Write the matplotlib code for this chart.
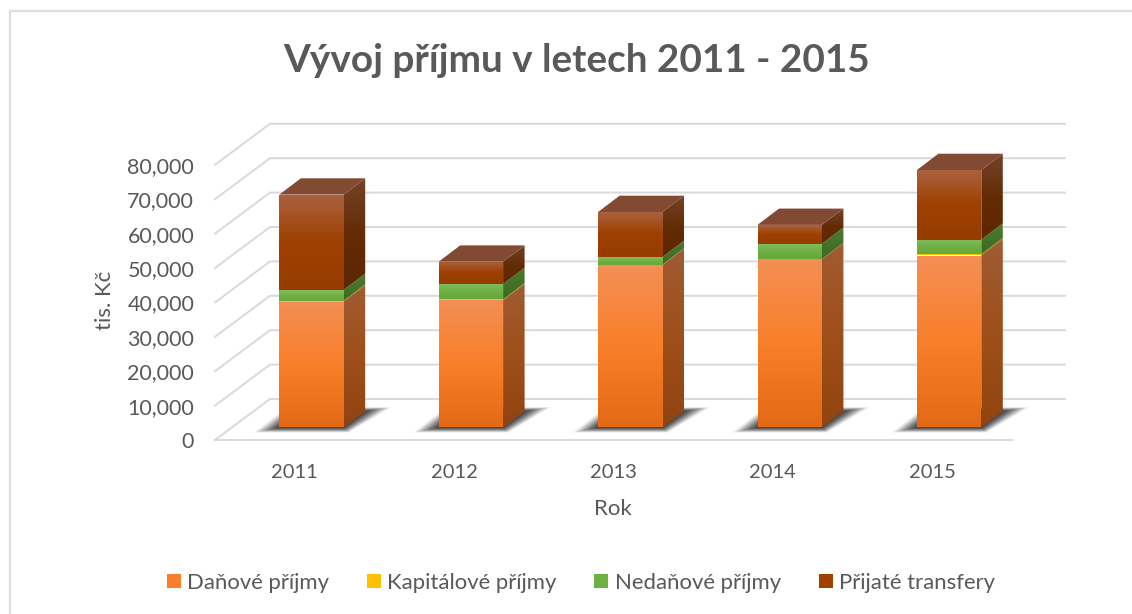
import matplotlib
matplotlib.use("Agg")
import matplotlib.pyplot as plt
import numpy as np
from matplotlib.colors import LinearSegmentedColormap
from matplotlib.patches import Polygon, Patch
from matplotlib.ticker import StrMethodFormatter

years = ['2011', '2012', '2013', '2014', '2015']
danove = [36600, 37000, 47240, 48900, 50000]
kapitalove = [300, 250, 100, 50, 400]
nedanove = [3100, 4450, 2220, 4450, 4200]
transfery = [27700, 6500, 13090, 5500, 20250]
series_names = ['Daňové příjmy', 'Kapitálové příjmy', 'Nedaňové příjmy', 'Přijaté transfery']

# front gradient stops, then side gradient stops for each series
front_cols = [
    ['#F48F55', '#F97F2A', '#E46914'],
    ['#FFC000', '#FFC000', '#FFC000'],
    ['#85BC60', '#6FB043', '#66A838'],
    ['#AB6240', '#9E4000', '#963C00'],
]
side_cols = [
    ['#A05C33', '#9E4F1A', '#914410'],
    ['#8A7400', '#8A7400', '#8A7400'],
    ['#4C7C33', '#437228', '#3C6A20'],
    ['#74432A', '#642C05', '#5C2600'],
]
top_col = '#824933'
text_col = '#595959'
grid_col = '#D9D9D9'

W, H = 1132, 614
UX = 159.4        # pixels per category
UY = 34.4 / 10000 # pixels per unit of value
X0, Y0 = 215, 440 # front left corner of the floor

fig = plt.figure(figsize=(W / 100, H / 100), dpi=100)
plt.rcParams['font.family'] = ['Lato', 'DejaVu Sans']
ax = fig.add_axes([X0 / W, (H - Y0) / H, 797 / W, 80000 * UY / H])
ax.set_xlim(-0.5, 4.5)
ax.set_ylim(0, 80000)
ax.patch.set_visible(False)


def px(dx, dy):
    # pixel offset to data offset (dy up)
    return dx / UX, dy / UY


def gradient_poly(verts, cols, z):
    verts = np.array(verts)
    cmap = LinearSegmentedColormap.from_list('g', cols)
    ext = [verts[:, 0].min(), verts[:, 0].max(), verts[:, 1].min(), verts[:, 1].max()]
    im = ax.imshow(np.linspace(0, 1, 256).reshape(-1, 1), cmap=cmap, extent=ext,
                   origin='upper', aspect='auto', zorder=z, interpolation='bilinear')
    clip = Polygon(verts, transform=ax.transData)
    im.set_clip_path(clip)
    im.set_clip_box(fig.bbox)


# walls
back_dx, back_dy = px(55, 41)
right_end = 4.5 + px(53, 0)[0]
for k in range(9):
    v = k * 10000
    ax.plot([-0.5, -0.5 + back_dx, right_end], [v, v + back_dy, v + back_dy],
            color=grid_col, lw=1.4, clip_on=False, zorder=1)
ax.plot([-0.5, 4.5], [0, 0], color=grid_col, lw=1.4, clip_on=False, zorder=1)

# bars
off_dx, off_dy = px(16.8, 12.5)
half = 32.2 / UX
dep_x, dep_y = px(21.5, 16.3)
stacks = np.array([danove, kapitalove, nedanove, transfery], dtype=float)

for i in range(len(years)):
    left = i - half + off_dx
    right = i + half + off_dx
    base = off_dy

    # floor shadow, stacked soft layers
    for s in np.linspace(1.0, 0.1, 10):
        a = 0.08 + 0.2 * (1 - s)
        sx, sy = px(25 * s, 5 * s)
        rx = px(26 * s, 0)[0]
        up = px(0, 4 * s)[1]
        back_left = px(14 * s, 0)[0]
        sh = [(left - sx, base - sy),
              (right + sx * 0.2, base - sy),
              (right + dep_x + rx, base + dep_y + up),
              (left + dep_x - back_left, base + dep_y + up)]
        ax.add_patch(Polygon(sh, closed=True, fc='#2E2E2E', ec='none', alpha=a,
                             clip_on=False, zorder=2))

    bottom = base
    for j in range(4):
        top = bottom + stacks[j][i]
        gradient_poly([(left, bottom), (right, bottom), (right, top), (left, top)],
                      front_cols[j], 3)
        gradient_poly([(right, bottom), (right + dep_x, bottom + dep_y),
                       (right + dep_x, top + dep_y), (right, top)],
                      side_cols[j], 3)
        bottom = top
    ax.add_patch(Polygon([(left, bottom), (right, bottom),
                          (right + dep_x, bottom + dep_y), (left + dep_x, bottom + dep_y)],
                         closed=True, fc=top_col, ec='none', clip_on=False, zorder=3))

ax.set_xlim(-0.5, 4.5)
ax.set_ylim(0, 80000)
ax.set_xticks(range(len(years)))
ax.set_xticklabels(years)
ax.set_yticks(range(0, 90000, 10000))
ax.yaxis.set_major_formatter(StrMethodFormatter('{x:,.0f}'))
ax.tick_params(axis='x', length=0, pad=17.5, labelsize=14.5, labelcolor=text_col)
ax.tick_params(axis='y', length=0, pad=15, labelsize=15.5, labelcolor=text_col)
for sp in ax.spines.values():
    sp.set_visible(False)

# frame, only top and left are inside the picture
fig.add_artist(plt.Line2D([9.5 / W, 1], [1 - 11 / H, 1 - 11 / H], color='#DEDEDE', lw=1.6))
fig.add_artist(plt.Line2D([9.5 / W, 9.5 / W], [0, 1 - 11 / H], color='#DEDEDE', lw=1.6))

fig.text(577 / W, 1 - 61 / H, 'Vývoj příjmu v letech 2011 - 2015', ha='center', va='center',
         fontsize=27.9, fontweight='bold', color=text_col)
fig.text(105 / W, 1 - 300 / H, 'tis. Kč', rotation=90, ha='center', va='center',
         fontsize=16, color=text_col)
fig.text(613 / W, 1 - 509 / H, 'Rok', ha='center', va='center', fontsize=16, color=text_col)

handles = [Patch(fc=front_cols[j][1], ec='none') for j in range(4)]
fig.legend(handles, series_names, loc='center', bbox_to_anchor=(581 / W, 1 - 583 / H), ncol=4,
           frameon=False, fontsize=15.9, labelcolor=text_col, handlelength=0.63, handleheight=0.63,
           handletextpad=0.3, columnspacing=1.7)

fig.savefig('out.png', dpi=100)
